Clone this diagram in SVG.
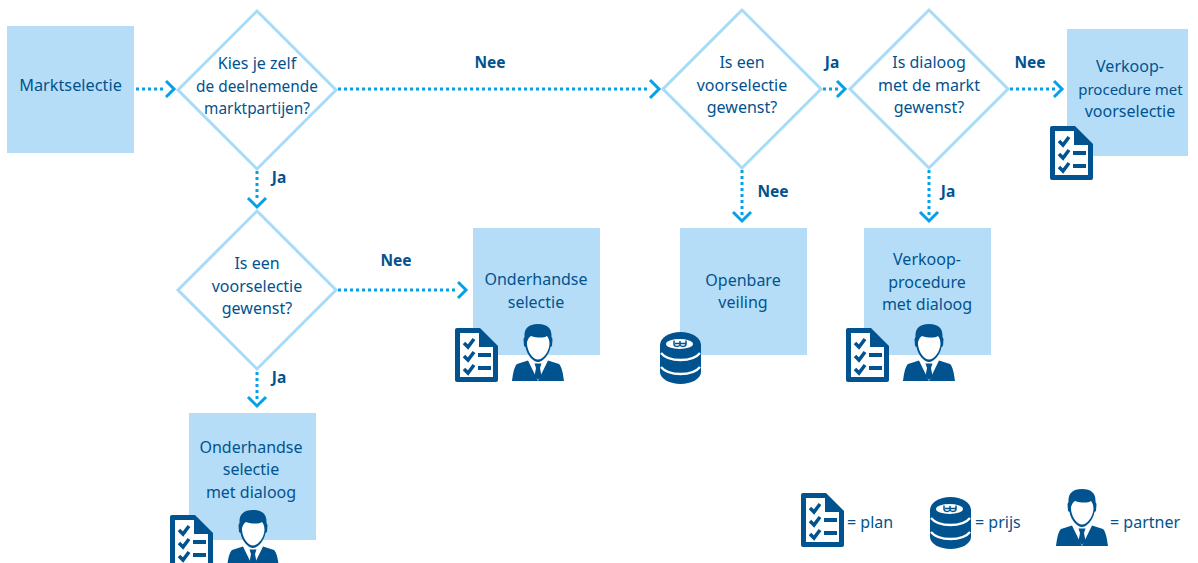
<svg xmlns="http://www.w3.org/2000/svg" xmlns:xlink="http://www.w3.org/1999/xlink" width="1198" height="563" viewBox="0 0 1198 563">
<style>
text{font-family:"Noto Sans","Open Sans",sans-serif;font-size:16px;fill:#01538f;text-anchor:middle}
.b{font-weight:700;font-size:15.5px}
.l{text-anchor:start}
.n{font-size:15.4px}
.box{fill:#b5ddf8}
.dia{fill:#fff;stroke:#a8dbf7;stroke-width:3}
.dot{fill:none;stroke:#05a1e8;stroke-width:3;stroke-dasharray:3 3}
.head{fill:none;stroke:#05a1e8;stroke-width:3}
.ic{fill:#01538f}
</style>
<defs>
<symbol id="plan" viewBox="0 0 43 54" width="43" height="54" overflow="visible">
<path class="ic" d="M2 0H25L43 18V52a2 2 0 0 1-2 2H2a2 2 0 0 1-2-2V2a2 2 0 0 1 2-2Z"/>
<path fill="#fff" d="M5 5H24V19H38V49H5Z"/>
<path fill="none" stroke="#01538f" stroke-width="3.500" d="M9 15l4 4 6-8M9 28l4 4 6-8M9 41l4 4 6-8"/>
<path class="ic" d="M23 25H36V29H23ZM23 38H36V42H23Z"/>
</symbol>
<symbol id="partner" viewBox="0 0 52 57" width="52" height="57" overflow="visible">
<path class="ic" d="M26 0C36 0 40 5 39.500 13L40.500 15 40 22 38.500 23C37 31 31 38 26 38 21 38 15 31 13.500 23L12 22 11.500 15 12.500 13C12 5 16 0 26 0Z"/>
<path fill="#fff" d="M15 18C16 15 17 13 19 12 25 14 32 14 35 12 36.500 14 37.500 16 37.500 20 37 28 31 35.500 26 35.500 21 35.500 15.500 28 15 20Z"/>
<path class="ic" d="M16 36.500L26 57 36 36.500 47 40C50 43 51 50 52 57H0C1 50 2 43 5 40Z"/>
<path class="ic" d="M22.500 39.500H29.500L28 44 29.500 52 26 56 22.500 52 24 44Z"/>
</symbol>
<symbol id="coins" viewBox="0 0 41 52" width="41" height="52" overflow="visible">
<ellipse class="ic" cx="20.500" cy="13" rx="20.500" ry="13"/>
<path class="ic" d="M0 13H41V40C41 47 31 52 20.500 52S0 47 0 40Z"/>
<path fill="none" stroke="#fff" stroke-width="2.300" d="M1 21C5 26 13 28 20.500 28S36 26 40 21M1 35C5 40 13 42 20.500 42S36 40 40 35"/>
<ellipse fill="#fff" cx="19.500" cy="12" rx="13.500" ry="5"/>
<path fill="none" stroke="#01538f" stroke-width="1.500" d="M14 8.500V12C14 15 19 15 20 13V9M20 13C21 15 26 15 26 12V8.500M15 11.500H26"/>
</symbol>
</defs>
<g id="connectors">
<path class="dot" d="M136 89H166"/><path class="head" d="M166 81L174 89 166 97"/>
<path class="dot" d="M338 89H650"/><path class="head" d="M650 80L659 89 650 98"/>
<path class="dot" d="M257 171V200"/><path class="head" d="M248 198L257 207 266 198"/>
<path class="dot" d="M338 290H458"/><path class="head" d="M458 282L466 290 458 298"/>
<path class="dot" d="M257 372V400"/><path class="head" d="M248 397L257 406 266 397"/>
<path class="dot" d="M823 89H838"/><path class="head" d="M837 81L845 89 837 97"/>
<path class="dot" d="M1010 89H1055"/><path class="head" d="M1054 81L1062 89 1054 97"/>
<path class="dot" d="M742 170V215"/><path class="head" d="M733 212L742 221 751 212"/>
<path class="dot" d="M929 170V215"/><path class="head" d="M920 212L929 221 938 212"/>
</g>
<g id="labels">
<text class="b" x="490" y="68">Nee</text>
<text class="b" x="279" y="183">Ja</text>
<text class="b" x="396" y="266">Nee</text>
<text class="b" x="279" y="383">Ja</text>
<text class="b" x="832" y="68">Ja</text>
<text class="b" x="773" y="197">Nee</text>
<text class="b" x="1030" y="68">Nee</text>
<text class="b" x="948" y="197">Ja</text>
</g>
<g id="n-marktselectie"><rect class="box" x="7" y="26" width="127" height="127"/><text x="70.500" y="91" style="font-size:16.300px">Marktselectie</text></g>
<g id="n-kies"><path class="dia" d="M257 11L336 90 257 169 178 90Z"/><text x="257" y="69">Kies je zelf</text><text class="n" x="257" y="92">de deelnemende</text><text class="n" x="257" y="114">marktpartijen?</text></g>
<g id="n-voor1"><path class="dia" d="M742 10L821 89 742 168 663 89Z"/><text x="742" y="68">Is een</text><text x="742" y="91">voorselectie</text><text x="742" y="113">gewenst?</text></g>
<g id="n-dialoog"><path class="dia" d="M929 10L1008 89 929 168 850 89Z"/><text x="929" y="68">Is dialoog</text><text x="929" y="91">met de markt</text><text x="929" y="113">gewenst?</text></g>
<g id="n-verkoop"><rect class="box" x="1067" y="29" width="121" height="127"/><text x="1130" y="72">Verkoop-</text><text x="1130.500" y="95" style="font-size:15px">procedure met</text><text x="1130" y="117">voorselectie</text><use xlink:href="#plan" href="#plan" x="1050" y="126"/></g>
<g id="n-voor2"><path class="dia" d="M257 211L336 290 257 369 178 290Z"/><text x="257" y="269">Is een</text><text x="257" y="292">voorselectie</text><text x="257" y="314">gewenst?</text></g>
<g id="n-onderhandse"><rect class="box" x="473" y="228" width="127" height="127"/><text x="536" y="285">Onderhandse</text><text x="536" y="308">selectie</text><use xlink:href="#plan" href="#plan" x="455" y="328"/><use xlink:href="#partner" href="#partner" x="512" y="324"/></g>
<g id="n-openbare"><rect class="box" x="680" y="228" width="127" height="127"/><text x="743" y="286">Openbare</text><text x="743" y="308">veiling</text><use xlink:href="#coins" href="#coins" x="660" y="332"/></g>
<g id="n-verkoopdialoog"><rect class="box" x="864" y="228" width="127" height="127"/><text x="927" y="265">Verkoop-</text><text x="927" y="288">procedure</text><text x="927" y="310">met dialoog</text><use xlink:href="#plan" href="#plan" x="846" y="328"/><use xlink:href="#partner" href="#partner" x="903" y="324"/></g>
<g id="n-onderhandsedialoog"><rect class="box" x="189" y="413" width="127" height="127"/><text x="251" y="453">Onderhandse</text><text x="251" y="475">selectie</text><text x="251" y="498">met dialoog</text><use xlink:href="#plan" href="#plan" x="170" y="515"/><use xlink:href="#partner" href="#partner" x="227" y="510"/></g>
<g id="legend"><use xlink:href="#plan" href="#plan" x="801" y="493"/><text class="l" x="847" y="528">= plan</text><use xlink:href="#coins" href="#coins" x="930" y="497"/><text class="l" x="975" y="528">= prijs</text><use xlink:href="#partner" href="#partner" x="1056" y="489"/><text class="l" x="1110" y="528">= partner</text></g>
</svg>
